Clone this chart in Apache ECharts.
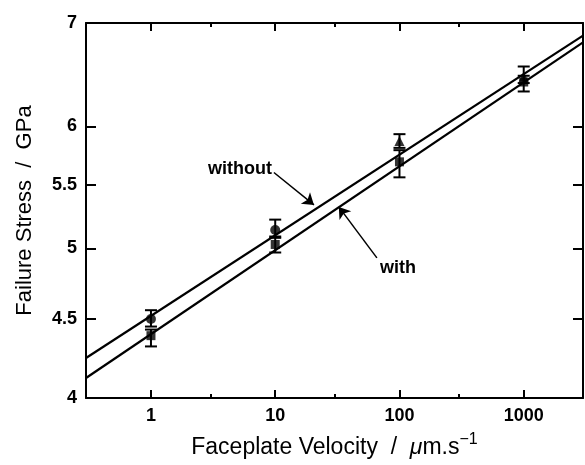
<!DOCTYPE html>
<html><head><meta charset="utf-8">
<script src="https://cdn.jsdelivr.net/npm/echarts@6/dist/echarts.min.js"></script>
<style>html,body{margin:0;padding:0;background:#fff}#c{width:585px;height:465px}</style>
</head><body><div id="c"></div>
<script>
// ---- data ----
const velocities = [1, 10, 100, 1000];
const withoutValues = [4.50, 5.14, 5.87, 6.46];
const withoutLow = [4.45, 5.08, 5.81, 6.40];
const withoutHigh = [4.56, 5.22, 5.93, 6.56];
const withoutSymbols = ['circle', 'circle', 'triangle', 'triangle'];
const withValues = [4.39, 5.03, 5.69, 6.41];
const withLow = [4.32, 4.97, 5.56, 6.32];
const withHigh = [4.43, 5.09, 5.79, 6.47];
const fitX = [0.3, 3000];
const withoutFit = [4.246, 6.87];
const withFit = [4.121, 6.80];
const xMajorTicks = [1, 10, 100, 1000];
const xMinorTicks = [3, 30, 300];
const yTicks = [4, 4.5, 5, 5.5, 6, 7];
const withoutArrow = [[9.76, 5.60], [20.5, 5.336]];
const withArrow = [[65.8, 4.93], [32.5, 5.32]];

const FONT = 'Liberation Sans';
const chart = echarts.init(document.getElementById('c'), null, {renderer: 'canvas'});

function xAxisDef(position, ticks, len, showLine, showLabel) {
  return {
    type: 'log', logBase: 10, min: fitX[0], max: fitX[1], position: position,
    axisLine: {show: showLine, lineStyle: {color: '#000', width: 2}},
    axisTick: {show: true, inside: true, length: len, customValues: ticks, lineStyle: {color: '#000', width: 2}},
    axisLabel: {show: showLabel, customValues: ticks, color: '#000', fontFamily: FONT, fontSize: 18, fontWeight: 'bold', margin: 9,
      formatter: v => String(v)},
    splitLine: {show: false}, minorTick: {show: false}
  };
}
function yAxisDef(position, showLabel) {
  return {
    type: 'log', logBase: 10, min: 4, max: 7, position: position,
    axisLine: {show: true, lineStyle: {color: '#000', width: 2}},
    axisTick: {show: true, inside: true, length: 10, customValues: yTicks, lineStyle: {color: '#000', width: 2}},
    axisLabel: {show: showLabel, customValues: yTicks, color: '#000', fontFamily: FONT, fontSize: 18, fontWeight: 'bold', margin: 9,
      formatter: v => String(v)},
    splitLine: {show: false}, minorTick: {show: false}
  };
}

const xAxes = [
  Object.assign(xAxisDef('bottom', xMajorTicks, 8, true, true), {
    name: 'Faceplate Velocity  /  {mu|μ}m.s{sup|−1}', nameLocation: 'middle', nameGap: 34,
    nameTextStyle: {color: '#000', fontFamily: FONT, fontSize: 23,
      rich: {mu: {fontFamily: FONT, fontSize: 23, fontStyle: 'italic', color: '#000'},
             sup: {fontFamily: FONT, fontSize: 16, verticalAlign: 'top', padding: [0, 0, 16, 0], color: '#000'}}}
  }),
  xAxisDef('bottom', xMinorTicks, 4, false, false),
  xAxisDef('top', xMajorTicks, 8, true, false),
  xAxisDef('top', xMinorTicks, 4, false, false)
];
const yAxes = [
  Object.assign(yAxisDef('left', true), {
    name: 'Failure Stress  /  GPa', nameLocation: 'middle', nameGap: 50,
    nameTextStyle: {color: '#000', fontFamily: FONT, fontSize: 22}
  }),
  yAxisDef('right', false)
];

function errData(low, high) { return velocities.map((v, i) => [v, low[i], high[i]]); }
function errRender(params, api) {
  const x = api.value(0);
  const lo = api.coord([x, api.value(1)]);
  const hi = api.coord([x, api.value(2)]);
  const hw = 6;
  const st = {stroke: '#000', lineWidth: 2};
  return {type: 'group', children: [
    {type: 'line', shape: {x1: lo[0], y1: lo[1], x2: hi[0], y2: hi[1]}, style: st},
    {type: 'line', shape: {x1: lo[0] - hw, y1: lo[1], x2: lo[0] + hw, y2: lo[1]}, style: st},
    {type: 'line', shape: {x1: hi[0] - hw, y1: hi[1], x2: hi[0] + hw, y2: hi[1]}, style: st}
  ]};
}

const arrowMark = (pts) => ({
  silent: true, symbol: ['none', 'arrow'], symbolSize: 11,
  lineStyle: {color: '#000', width: 1.5, type: 'solid'}, itemStyle: {color: '#000'}, label: {show: false},
  data: [[{coord: pts[0]}, {coord: pts[1]}]], animation: false
});

chart.setOption({
  animation: false,
  backgroundColor: '#fff',
  grid: {left: 86, top: 23, width: 497, height: 375, containLabel: false},
  xAxis: xAxes,
  yAxis: yAxes,
  series: [
    {type: 'line', name: 'without fit', data: fitX.map((x, i) => [x, withoutFit[i]]), showSymbol: false,
      lineStyle: {color: '#000', width: 2.2}, itemStyle: {color: '#000'}, markLine: arrowMark(withoutArrow), z: 2},
    {type: 'line', name: 'with fit', data: fitX.map((x, i) => [x, withFit[i]]), showSymbol: false,
      lineStyle: {color: '#000', width: 2.2}, itemStyle: {color: '#000'}, markLine: arrowMark(withArrow), z: 2},
    {type: 'custom', name: 'without err', renderItem: errRender, data: errData(withoutLow, withoutHigh), z: 3},
    {type: 'custom', name: 'with err', renderItem: errRender, data: errData(withLow, withHigh), z: 3},
    {type: 'scatter', name: 'without', symbolSize: 10, itemStyle: {color: '#000'}, z: 4,
      data: velocities.map((v, i) => ({value: [v, withoutValues[i]], symbol: withoutSymbols[i]}))},
    {type: 'scatter', name: 'with', symbol: 'rect', symbolSize: 9, itemStyle: {color: '#000'}, z: 4,
      data: velocities.map((v, i) => [v, withValues[i]])}
  ]
});

const a = chart.convertToPixel({xAxisIndex: 0, yAxisIndex: 0}, withoutArrow[0]);
const b = chart.convertToPixel({xAxisIndex: 0, yAxisIndex: 0}, withArrow[0]);
chart.setOption({
  graphic: [
    {type: 'text', x: a[0] - 2, y: a[1] - 3, style: {text: 'without', fill: '#000', font: 'bold 18px "Liberation Sans"', align: 'right', verticalAlign: 'middle'}},
    {type: 'text', x: b[0] + 3, y: b[1] + 10, style: {text: 'with', fill: '#000', font: 'bold 18px "Liberation Sans"', align: 'left', verticalAlign: 'middle'}}
  ]
});
</script></body></html>
